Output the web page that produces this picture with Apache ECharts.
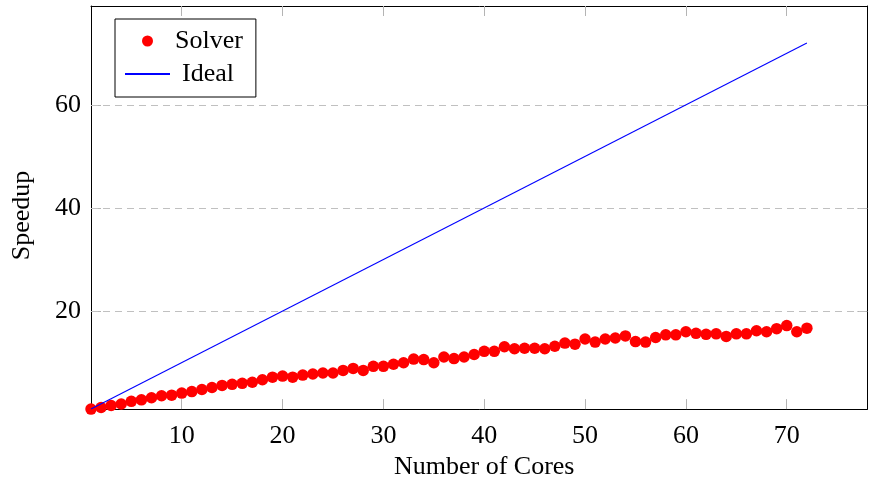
<!DOCTYPE html>
<html>
<head>
<meta charset="utf-8">
<script src="https://cdn.jsdelivr.net/npm/echarts@6/dist/echarts.min.js"></script>
<style>html,body{margin:0;padding:0;background:#fff}#c{width:870px;height:485px}</style>
</head>
<body>
<div id="c"></div>
<script>
const cores = [1,2,3,4,5,6,7,8,9,10,11,12,13,14,15,16,17,18,19,20,21,22,23,24,25,26,27,28,29,30,31,32,33,34,35,36,37,38,39,40,41,42,43,44,45,46,47,48,49,50,51,52,53,54,55,56,57,58,59,60,61,62,63,64,65,66,67,68,69,70,71,72];
const solverSpeedup = [1.0,1.3,1.7,2.0,2.5,2.8,3.2,3.6,3.7,4.1,4.4,4.8,5.2,5.6,5.8,6.0,6.2,6.7,7.2,7.4,7.2,7.6,7.8,8.0,8.0,8.5,8.9,8.5,9.3,9.3,9.7,10.0,10.7,10.6,10.0,11.1,10.8,11.1,11.6,12.2,12.2,13.1,12.7,12.8,12.8,12.7,13.2,13.8,13.6,14.6,14.0,14.6,14.8,15.2,14.1,14.0,14.9,15.4,15.4,16.0,15.7,15.5,15.6,15.1,15.6,15.6,16.2,16.0,16.6,17.2,16.0,16.7];
const idealCores = [1, 72];
const idealSpeedup = [1, 72];
const xTicks = [10,20,30,40,50,60,70];
const yTicks = [20,40,60];
const xRange = [1, 78];
const yRange = [1, 79.2];

const FONT = 'Liberation Serif';
const FS = 26;
const tickGray = '#b4b4b4';

const chart = echarts.init(document.getElementById('c'), null, {renderer: 'canvas'});
const axisLine = {show: true, lineStyle: {color: '#000', width: 1}};
chart.setOption({
  animation: false,
  backgroundColor: '#fff',
  grid: {left: 91, top: 6, width: 776.4, height: 410, containLabel: false},
  legend: {
    orient: 'vertical', left: 115, top: 19,
    backgroundColor: '#fff', borderColor: '#000', borderWidth: 1,
    padding: [9, 13, 10, 9],
    itemWidth: 45, itemHeight: 11, itemGap: 7,
    textStyle: {fontFamily: FONT, fontSize: FS, color: '#000', lineHeight: 25},
    data: [
      {name: 'Solver', icon: 'circle'},
      {name: 'Ideal', itemStyle: {opacity: 0}, textStyle: {padding: [0, 0, 0, 7]}}
    ]
  },
  xAxis: [{
    type: 'value', min: xRange[0], max: xRange[1], position: 'bottom',
    name: 'Number of Cores', nameLocation: 'middle', nameGap: 40,
    nameTextStyle: {fontFamily: FONT, fontSize: FS, color: '#000', padding: [0, 0, 0, 10]},
    axisLine: axisLine,
    axisTick: {show: true, inside: true, length: 10, customValues: xTicks, lineStyle: {color: tickGray, width: 1}},
    axisLabel: {customValues: xTicks, margin: 14, fontFamily: FONT, fontSize: FS, color: '#000'},
    splitLine: {show: false}
  }, {
    type: 'value', min: xRange[0], max: xRange[1], position: 'top',
    axisLine: axisLine,
    axisTick: {show: true, inside: true, length: 10, customValues: xTicks, lineStyle: {color: tickGray, width: 1}},
    axisLabel: {show: false}, splitLine: {show: false}
  }],
  yAxis: [{
    type: 'value', min: yRange[0], max: yRange[1], position: 'left',
    name: 'Speedup', nameLocation: 'middle', nameGap: 56,
    nameTextStyle: {fontFamily: FONT, fontSize: FS, color: '#000', padding: [0, 16, 0, 0]},
    axisLine: axisLine,
    axisTick: {show: true, inside: true, length: 10, customValues: yTicks, lineStyle: {color: tickGray, width: 1}},
    axisLabel: {customValues: yTicks, margin: 10, fontFamily: FONT, fontSize: FS, color: '#000'},
    splitLine: {show: false}
  }, {
    type: 'value', min: yRange[0], max: yRange[1], position: 'right',
    axisLine: axisLine,
    axisTick: {show: true, inside: true, length: 10, customValues: yTicks, lineStyle: {color: tickGray, width: 1}},
    axisLabel: {show: false}, splitLine: {show: false}
  }],
  series: [{
    name: 'Solver', type: 'scatter', xAxisIndex: 0, yAxisIndex: 0,
    symbol: 'circle', symbolSize: 11.5,
    itemStyle: {color: '#ff0000', opacity: 1},
    data: cores.map((c, i) => [c, solverSpeedup[i]]),
    markLine: {
      silent: true, symbol: 'none', label: {show: false},
      lineStyle: {color: '#c0c0c0', type: [7, 5], width: 1},
      data: yTicks.map(v => ({yAxis: v})),
      z: 1
    },
    z: 3
  }, {
    name: 'Ideal', type: 'line', xAxisIndex: 0, yAxisIndex: 0,
    symbol: 'none', showSymbol: false,
    lineStyle: {color: '#0000ff', width: 1.1},
    itemStyle: {color: '#0000ff'},
    data: idealCores.map((c, i) => [c, idealSpeedup[i]]),
    z: 4
  }]
});
</script>
</body>
</html>
